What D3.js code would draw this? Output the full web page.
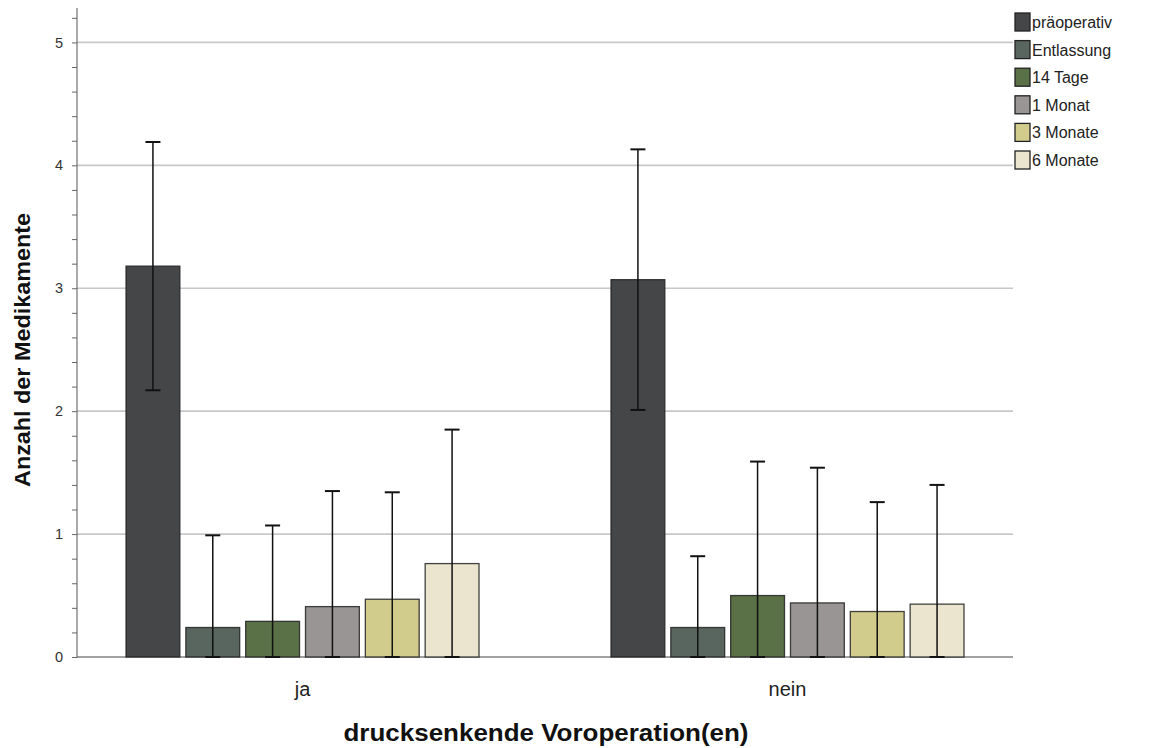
<!DOCTYPE html>
<html>
<head>
<meta charset="utf-8">
<script src="https://cdn.jsdelivr.net/npm/d3@7"></script>
<style>
  body { margin: 0; background: #fff; }
  text { font-family: "Liberation Sans", Arial, sans-serif; }
</style>
</head>
<body>
<div id="viz"></div>
<script>
const width = 1153;
const height = 748;
const margin = {top: 8, right: 140, bottom: 91, left: 77};

// data
const groups = ['ja', 'nein'];
const series = ['präoperativ', 'Entlassung', '14 Tage', '1 Monat', '3 Monate', '6 Monate'];
const meansJa = [3.18, 0.24, 0.29, 0.41, 0.47, 0.76];
const meansNein = [3.07, 0.24, 0.50, 0.44, 0.37, 0.43];
const errJa = [1.01, 0.75, 0.78, 0.94, 0.87, 1.09];
const errNein = [1.06, 0.58, 1.09, 1.10, 0.89, 0.97];
const yTicks = [0, 1, 2, 3, 4, 5];
const colors = ['#454648', '#59655f', '#5a7046', '#999594', '#d1cc8c', '#ebe5cf'];

const rows = [];
groups.forEach((g, gi) => {
  const m = gi === 0 ? meansJa : meansNein;
  const e = gi === 0 ? errJa : errNein;
  series.forEach((s, si) => rows.push({group: g, series: s, value: m[si], err: e[si], color: colors[si]}));
});

const plotRight = width - margin.right;
const plotBottom = height - margin.bottom;

const y = d3.scaleLinear()
  .domain([0, 5.28])
  .range([plotBottom, margin.top]);

const x0 = d3.scalePoint()
  .domain(groups)
  .range([margin.left, plotRight])
  .padding(0.465);

const x1 = d3.scaleBand()
  .domain(series)
  .range([-176.5, 176.5])
  .paddingInner(0.1);

const svg = d3.select('#viz')
  .append('svg')
  .attr('width', width)
  .attr('height', height);

// gridlines
svg.append('g')
  .selectAll('line')
  .data(yTicks.filter(d => d > 0))
  .join('line')
    .attr('x1', margin.left)
    .attr('x2', plotRight)
    .attr('y1', d => y(d))
    .attr('y2', d => y(d))
    .attr('stroke', '#c8c8c8')
    .attr('stroke-width', 1.6);

// y axis
const yAxis = svg.append('g')
  .attr('transform', `translate(${margin.left},0)`)
  .call(d3.axisLeft(y).tickValues(d3.range(0, 5.21, 0.2)).tickSize(5).tickFormat(d => {
    const r = Math.round(d * 10) / 10;
    return Number.isInteger(r) ? r : '';
  }));
yAxis.select('.domain').attr('stroke', '#555').attr('d', `M0,${plotBottom}V${margin.top}`);
yAxis.selectAll('.tick line').attr('stroke', '#666');
yAxis.selectAll('.tick text')
  .attr('x', -14)
  .attr('font-size', 14.5)
  .attr('fill', '#333')
  .attr('font-family', '"Liberation Sans", Arial, sans-serif');

// x axis line
svg.append('line')
  .attr('x1', margin.left)
  .attr('x2', plotRight)
  .attr('y1', plotBottom)
  .attr('y2', plotBottom)
  .attr('stroke', '#444')
  .attr('stroke-width', 1);

// bars
const barG = svg.append('g');
barG.selectAll('rect')
  .data(rows)
  .join('rect')
    .attr('x', d => x0(d.group) + x1(d.series))
    .attr('y', d => y(d.value))
    .attr('width', x1.bandwidth())
    .attr('height', d => y(0) - y(d.value))
    .attr('fill', d => d.color)
    .attr('stroke', '#222')
    .attr('stroke-opacity', 0.85)
    .attr('stroke-width', 1.3);

// error bars
const errG = svg.append('g');
rows.forEach(d => {
  const cx = x0(d.group) + x1(d.series) + x1.bandwidth() / 2;
  const top = y(d.value + d.err);
  const bot = y(Math.max(0, d.value - d.err));
  errG.append('line')
    .attr('x1', cx).attr('x2', cx)
    .attr('y1', top).attr('y2', bot)
    .attr('stroke', '#111').attr('stroke-width', 1.5);
  [top, bot].forEach(yy => {
    errG.append('line')
      .attr('x1', cx - 7.5).attr('x2', cx + 7.5)
      .attr('y1', yy).attr('y2', yy)
      .attr('stroke', '#111').attr('stroke-width', 2);
  });
});

// x labels
svg.selectAll('.x-label')
  .data(groups)
  .join('text')
    .attr('x', d => x0(d))
    .attr('y', plotBottom + 39)
    .attr('text-anchor', 'middle')
    .attr('font-size', 20)
    .attr('fill', '#222')
    .text(d => d);

// axis titles
svg.append('text')
  .attr('x', 546)
  .attr('y', 741)
  .attr('text-anchor', 'middle')
  .attr('font-size', 23)
  .attr('font-weight', 'bold')
  .attr('fill', '#111')
  .attr('textLength', 405)
  .attr('lengthAdjust', 'spacingAndGlyphs')
  .text('drucksenkende Voroperation(en)');

svg.append('text')
  .attr('transform', `translate(30, 350) rotate(-90)`)
  .attr('text-anchor', 'middle')
  .attr('font-size', 22)
  .attr('font-weight', 'bold')
  .attr('fill', '#111')
  .attr('textLength', 274)
  .attr('lengthAdjust', 'spacingAndGlyphs')
  .text('Anzahl der Medikamente');

// legend
const legend = svg.append('g')
  .attr('transform', 'translate(1015, 13)');
const item = legend.selectAll('g')
  .data(series)
  .join('g')
    .attr('transform', (d, i) => `translate(0, ${i * 27.6})`);
item.append('rect')
  .attr('width', 15)
  .attr('height', 18)
  .attr('fill', (d, i) => colors[i])
  .attr('stroke', '#222')
  .attr('stroke-width', 1.3);
item.append('text')
  .attr('x', 17)
  .attr('y', 15)
  .attr('font-size', 16)
  .attr('fill', '#222')
  .text(d => d);
</script>
</body>
</html>
